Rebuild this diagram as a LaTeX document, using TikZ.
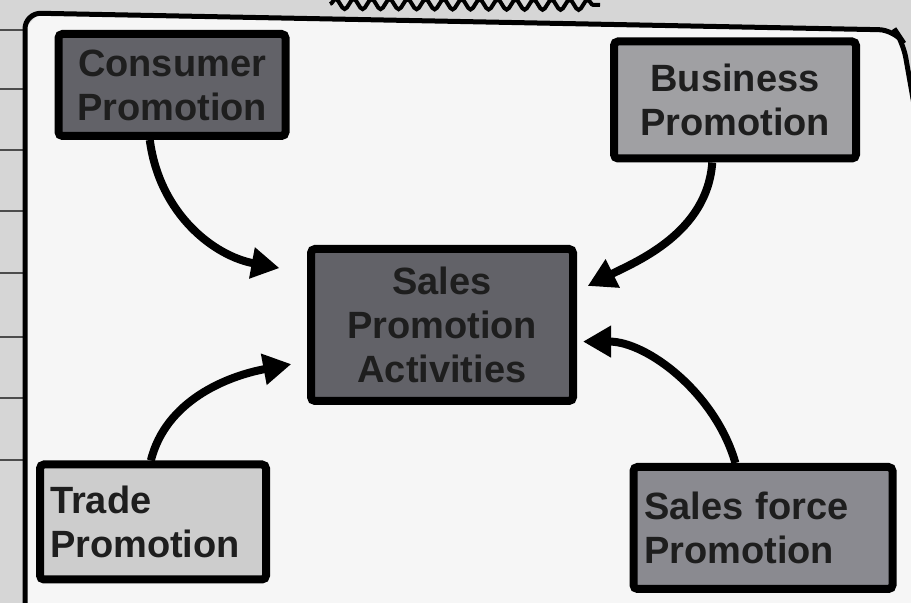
\documentclass[tikz,border=0pt]{standalone}
\usepackage{fontspec}
\setmainfont{Liberation Sans}
\usetikzlibrary{arrows.meta,decorations.pathmorphing}
\definecolor{paper}{HTML}{D6D6D6}
\definecolor{sheet}{HTML}{F6F6F6}
\definecolor{ink}{HTML}{1E1E1E}
\definecolor{darkfill}{HTML}{626268}
\definecolor{midfill}{HTML}{8A8A90}
\definecolor{greyfill}{HTML}{A0A0A3}
\definecolor{palefill}{HTML}{CDCDCD}

\begin{document}
\begin{tikzpicture}[x=0.5pt,y=-0.5pt,
  box/.style={draw=black,line width=4pt,rounded corners=2pt,inner sep=5pt,
    text=ink,font=\fontsize{19}{22}\selectfont\bfseries},
  flow/.style={line width=4pt,-{Triangle[length=14pt,width=15pt]}}]

\useasboundingbox (0,0) rectangle (911,603);
\clip (0,0) rectangle (911,603);
\fill[paper] (0,0) rectangle (911,603);

\foreach \y in {30,89,150,211,273,337,398,460}
    \draw[line width=1.2pt,black!70] (0,\y) -- (24,\y);

% sheet and frame
\fill[sheet] (25,620) -- (25,28) -- (40,13) -- (890,30) -- (903,42) -- (1010,620) -- cycle;
\draw[line width=2.5pt,rounded corners=8pt] (25,620) -- (25,13) -- (895,30) -- (903,42) -- (1005,620);
\draw[line width=2pt,decorate,decoration={snake,amplitude=2.5pt,segment length=9pt}] (330,4) -- (600,5);

\node[box,fill=darkfill,minimum width=113.5pt,minimum height=51pt,
      text width=103pt,align=center] (cons) at (172,85) {Consumer\\Promotion};
\node[box,fill=greyfill,minimum width=121pt,minimum height=58.5pt,
      text width=111pt,align=center] (bus) at (735,100) {Business\\Promotion};
\node[box,fill=darkfill,minimum width=131pt,minimum height=76pt,
      text width=121pt,align=center] (sales) at (442,325) {Sales\\Promotion\\Activities};
\node[box,fill=palefill,minimum width=112.5pt,minimum height=57.5pt,
      text width=103pt,align=left] (trade) at (153,522) {Trade\\Promotion};
\node[box,fill=midfill,minimum width=129.5pt,minimum height=61pt,
      text width=119pt,align=left] (force) at (763,528) {Sales force\\Promotion};

\draw[flow,shorten >=14pt] (cons.-112) .. controls +(10,75) and +(-92,-17) .. (sales.159);
\draw[flow,shorten >=6pt] (bus.-110) .. controls +(-5,70) and +(60,-30) .. (sales.14);
\draw[flow,shorten >=8pt] (trade.92) .. controls +(15,-60) and +(-80,15) .. (sales.195);
\draw[flow,shorten >=3pt] (force.113) .. controls +(-20,-70) and +(70,0) .. (sales.-7);

\end{tikzpicture}
\end{document}
